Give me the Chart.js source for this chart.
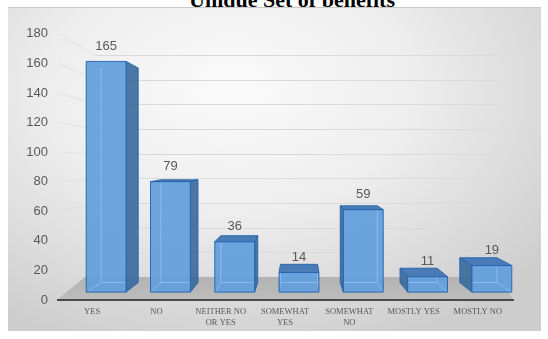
<!DOCTYPE html>
<html>
<head>
<meta charset="utf-8">
<script src="https://cdn.jsdelivr.net/npm/chart.js@4"></script>
<style>
  html, body { margin: 0; padding: 0; background: #fff; overflow: hidden; }
  #wrap { position: relative; width: 548px; height: 339px; }
  #title {
    position: absolute; left: 292px; top: -11px; transform: translateX(-50%);
    font: bold 22px 'Liberation Serif', 'Times New Roman', serif; line-height: 22px;
    white-space: nowrap; color: #000; z-index: 0;
  }
  #panel {
    position: absolute; left: 8px; top: 7px; width: 533px; height: 323px; z-index: 1;
    background: radial-gradient(ellipse 75% 85% at 42% 25%, #fbfbfb 0%, #eeeeee 45%, #cdcdcd 100%);
    border-top: 1px solid #c9c9c9;
  }
  #c { position: absolute; left: 0; top: 0; z-index: 2; }
</style>
</head>
<body>
<div id="wrap">
  <div id="title">Unique Set of benefits</div>
  <div id="panel"></div>
  <canvas id="c" width="548" height="339"></canvas>
</div>
<script>
// categories and counts
const categories = ['YES', 'NO', ['NEITHER NO', 'OR YES'], ['SOMEWHAT', 'YES'], ['SOMEWHAT', 'NO'], 'MOSTLY YES', 'MOSTLY NO'];
const counts = [165, 79, 36, 14, 59, 11, 19];
const yMin = 0, yMax = 180, yStep = 20;

const K = 0.07; // depth of the boxes toward the vanishing point

// floor, back wall and side wall lines
const room = {
  id: 'room',
  beforeDatasetsDraw(chart) {
    const ctx = chart.ctx;
    const y = chart.scales.y, yb = chart.scales.yBack;
    const a = chart.chartArea;
    const fl = a.left - 17, fr = a.right - 11;   // floor front
    const bl = a.left + 11, br = a.right - 24;   // floor back
    const wl = a.left + 22;                      // back wall left
    const y0 = y.getPixelForValue(0), yb0 = yb.getPixelForValue(0);
    ctx.save();
    // floor
    const g = ctx.createLinearGradient(0, yb0, 0, y0);
    g.addColorStop(0, '#b3b3b3');
    g.addColorStop(1, '#bdbdbd');
    ctx.fillStyle = g;
    ctx.beginPath();
    ctx.moveTo(fl, y0); ctx.lineTo(fr, y0); ctx.lineTo(br, yb0); ctx.lineTo(bl, yb0);
    ctx.closePath(); ctx.fill();
    // grid
    ctx.lineWidth = 1;
    for (let v = yMin + yStep; v <= yMax; v += yStep) {
      const py = Math.round(yb.getPixelForValue(v)) + 0.5;
      ctx.strokeStyle = '#dadada';
      ctx.beginPath(); ctx.moveTo(wl, py); ctx.lineTo(br, py); ctx.stroke();
      ctx.strokeStyle = '#e0e0e0';
      ctx.beginPath(); ctx.moveTo(fl + 2, y.getPixelForValue(v)); ctx.lineTo(wl, py); ctx.stroke();
    }
    // axis line
    ctx.strokeStyle = '#4a4a4a';
    ctx.lineWidth = 2;
    ctx.beginPath(); ctx.moveTo(fl, y0); ctx.lineTo(fr + 1, y0); ctx.stroke();
    ctx.restore();
  }
};

// 3d boxes built on the bar elements
const boxes = {
  id: 'boxes',
  afterDatasetsDraw(chart) {
    const ctx = chart.ctx;
    const a = chart.chartArea;
    const vx = (a.left + a.right) / 2;
    const vy = chart.scales.y2.getPixelForValue(98);
    const meta = chart.getDatasetMeta(0);
    const bx = p => p + K * (vx - p);
    const by = p => p + K * (vy - p);
    ctx.save();
    meta.data.forEach((bar, i) => {
      const x0 = bar.x - bar.width / 2, x1 = bar.x + bar.width / 2;
      const yt = bar.y, yb = bar.base;
      const X0 = bx(x0), X1 = bx(x1), YT = by(yt), YB = by(yb);
      ctx.lineWidth = 1;
      ctx.lineJoin = 'round';
      ctx.strokeStyle = 'rgba(40,100,175,0.95)';
      const poly = (pts, fill) => {
        ctx.beginPath();
        pts.forEach((p, j) => j ? ctx.lineTo(p[0], p[1]) : ctx.moveTo(p[0], p[1]));
        ctx.closePath();
        ctx.fillStyle = fill; ctx.fill(); ctx.stroke();
      };
      if (x1 < vx) poly([[x1, yt], [X1, YT], [X1, YB], [x1, yb]], 'rgba(55,105,155,0.9)');
      if (x0 > vx) poly([[x0, yt], [X0, YT], [X0, YB], [x0, yb]], 'rgba(55,105,155,0.9)');
      if (yt > vy) poly([[x0, yt], [x1, yt], [X1, YT], [X0, YT]], 'rgba(65,118,180,0.95)');
      poly([[x0, yt], [x1, yt], [x1, yb], [x0, yb]], 'rgba(98,158,220,0.93)');
      // back edges seen through the front face
      ctx.save();
      ctx.beginPath(); ctx.rect(x0 + 1, yt + 1, x1 - x0 - 2, yb - yt - 2); ctx.clip();
      ctx.strokeStyle = 'rgba(140,190,240,0.9)';
      ctx.beginPath();
      ctx.moveTo(X0, YT); ctx.lineTo(X0, YB); ctx.lineTo(X1, YB); ctx.lineTo(X1, YT);
      ctx.moveTo(x0, yb); ctx.lineTo(X0, YB);
      ctx.moveTo(x1, yb); ctx.lineTo(X1, YB);
      ctx.stroke();
      ctx.restore();
      // value label
      ctx.fillStyle = '#595959';
      ctx.font = "13px 'Liberation Sans', Arial, sans-serif";
      ctx.textAlign = 'center';
      ctx.textBaseline = 'middle';
      ctx.fillText(String(counts[i]), bar.x, yt - 15);
    });
    ctx.restore();
  }
};

new Chart(document.getElementById('c'), {
  type: 'bar',
  data: {
    labels: categories,
    datasets: [{
      data: counts,
      yAxisID: 'y2',
      backgroundColor: 'rgba(0,0,0,0)',
      borderWidth: 0,
      categoryPercentage: 1,
      barPercentage: 0.62
    }]
  },
  options: {
    responsive: false,
    animation: false,
    layout: { padding: { top: 30, right: 24, left: 0, bottom: 0 } },
    plugins: { legend: { display: false }, tooltip: { enabled: false }, title: { display: false } },
    scales: {
      x: {
        grid: { display: false, drawTicks: false },
        border: { display: false },
        ticks: {
          autoSkip: false, maxRotation: 0, padding: 7, labelOffset: -14,
          color: '#595959',
          font: { family: "'Liberation Serif', 'Times New Roman', serif", size: 8.5, lineHeight: 1.2 }
        },
        afterFit: s => { s.height = 39; }
      },
      y: {
        min: yMin, max: yMax,
        grid: { display: false, drawTicks: false },
        border: { display: false },
        ticks: {
          stepSize: yStep, padding: 26, color: '#595959',
          font: { family: "'Liberation Sans', Arial, sans-serif", size: 13 }
        },
        afterFit: s => { s.width = 74; }
      },
      yBack: { display: false, min: -18.64, max: 197.36 },
      y2: { display: false, min: -5.64, max: 184.76 }
    }
  },
  plugins: [room, boxes]
});
</script>
</body>
</html>
